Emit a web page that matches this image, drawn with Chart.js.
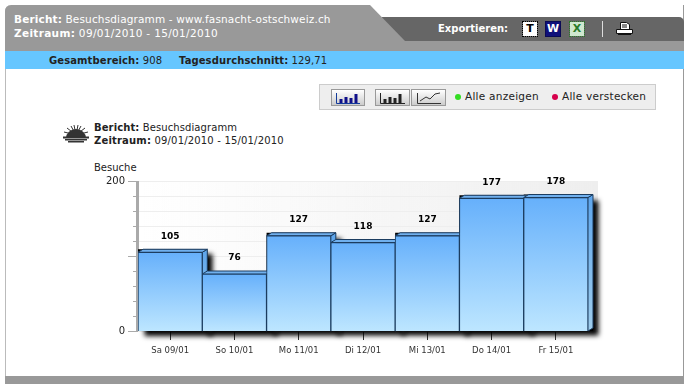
<!DOCTYPE html>
<html lang="de">
<head>
<meta charset="utf-8">
<title>Besuchsdiagramm</title>
<script src="https://cdn.jsdelivr.net/npm/chart.js@4"></script>
<style>
html, body { margin: 0; padding: 0; background: #fff; }
body { width: 690px; height: 390px; position: relative; overflow: hidden; font-family: "DejaVu Sans", Verdana, sans-serif; font-size: 10px; color: #222; }
.box { position: absolute; }
.txt { position: absolute; white-space: nowrap; line-height: 13px; }
#chart { position: absolute; left: 0; top: 0; }
.btn { position: absolute; top: 89px; height: 15px; border: 1px solid #999; background: linear-gradient(#fff, #ccc); }
.exp { position: absolute; top: 22px; width: 14px; height: 14px; line-height: 14px; text-align: center; font-weight: bold; font-size: 11px; }
.dot { position: absolute; top: 94px; width: 6px; height: 6px; border-radius: 50%; }
</style>
</head>
<body>
<!-- page frame -->
<div class="box" style="left:5px;top:5px;width:679px;height:379px;border-right:1px solid #999;border-left:1px solid #bbb;box-sizing:border-box;border-radius:6px 0 0 0"></div>
<div class="box" style="left:382px;top:17px;width:302px;height:24px;background:#666;border-radius:0 5px 0 0"></div>
<div class="box" style="left:5px;top:5px;width:400px;height:36px;background:#999;clip-path:polygon(0 0,365px 0,400px 36px,0 36px);border-radius:6px 0 0 0"></div>
<div class="box" style="left:5px;top:41px;width:679px;height:10px;background:#999"></div>
<div class="box" style="left:5px;top:51px;width:679px;height:18px;background:#66c6ff"></div>
<div class="box" style="left:5px;top:376px;width:679px;height:8px;background:#999"></div>

<div class="txt" style="left:14px;top:13px;color:#fff;font-size:10.5px;letter-spacing:.15px"><b>Bericht:</b> Besuchsdiagramm - www.fasnacht-ostschweiz.ch</div>
<div class="txt" style="left:14px;top:27px;color:#fff;font-size:10.5px;letter-spacing:.33px"><b>Zeitraum:</b> 09/01/2010 - 15/01/2010</div>
<div class="txt" style="left:49px;top:54px;letter-spacing:.1px"><b>Gesamtbereich:</b> 908</div>
<div class="txt" style="left:179px;top:54px;letter-spacing:.1px"><b>Tagesdurchschnitt:</b> 129,71</div>

<div class="txt" style="left:438px;top:22px;color:#fff;font-weight:bold;font-size:10px">Exportieren:</div>
<div class="exp" style="left:523px;background:#fff;color:#000;outline:1px dotted #000">T</div>
<div class="exp" style="left:546px;color:#fff;background:#10107a;outline:1px solid #0a0a55">W</div>
<div class="exp" style="left:570px;background:#cfe8cf;color:#2a7a2a;outline:1px dotted #2a7a2a">X</div>
<div class="box" style="left:602px;top:21px;width:1px;height:16px;background:#ddd"></div>
<svg class="box" style="left:616px;top:21px" width="17" height="15">
  <path d="M4.5 1.5h6l3 2v5h-9z" fill="#fff" stroke="#111"/><path d="M.5 8.5h16v4H.5z" fill="#fff" stroke="#111"/><path d="M6 4h5M6 6h5" stroke="#111"/><path d="M2 13h13v1H2z" fill="#111"/>
</svg>

<!-- toolbar -->
<div class="box" style="left:319px;top:84px;width:335px;height:24px;background:#eee;border:1px solid #ccc"></div>
<div class="btn" style="left:331px;width:32px"><svg width="32" height="15"><path d="M4.5 3v10.5H28" stroke="#123a9a" fill="none"/><path d="M9 13V9M14 13V7M19 13V8M24 13V4" stroke="#10108a" stroke-width="3" fill="none"/></svg></div>
<div class="btn" style="left:375px;width:33px"><svg width="33" height="15"><path d="M4.5 3v10.5H29" stroke="#222" fill="none"/><path d="M9 13V9M14 13V7M19 13V8M24 13V4" stroke="#222" stroke-width="3" fill="none"/></svg></div>
<div class="btn" style="left:411px;width:33px"><svg width="33" height="15"><path d="M5.5 3v10.5H29M8 11l6-4 4 2 5-5 5-1" stroke="#333" fill="none"/></svg></div>
<div class="dot" style="left:455px;background:#33dd22"></div>
<div class="txt" style="left:465px;top:90px;font-size:10.5px;letter-spacing:.25px">Alle anzeigen</div>
<div class="dot" style="left:552px;background:#d6004c"></div>
<div class="txt" style="left:562px;top:90px;font-size:10.5px;letter-spacing:.25px">Alle verstecken</div>

<!-- report heading -->
<svg class="box" style="left:62px;top:125px" width="28" height="18">
  <path d="M14 10L5 3M14 10L9 1M14 10L12 0M14 10L16 0M14 10L19 1M14 10L23 3M14 10L2 7M14 10L26 7" stroke="#333"/>
  <path d="M4 13a10 9 0 0 1 20 0z" fill="#333"/><path d="M1 11.5h26v2H1zM3 14h22v1.5H3zM6 16h16v1.5H6z" fill="#333"/>
</svg>
<div class="txt" style="left:94px;top:121px;letter-spacing:.1px"><b>Bericht:</b> Besuchsdiagramm</div>
<div class="txt" style="left:94px;top:134px;letter-spacing:.18px"><b>Zeitraum:</b> 09/01/2010 - 15/01/2010</div>
<div class="txt" style="left:94px;top:161px;font-size:10px">Besuche</div>

<canvas id="chart" width="690" height="390"></canvas>

<script>
const categories = ['Sa 09/01', 'So 10/01', 'Mo 11/01', 'Di 12/01', 'Mi 13/01', 'Do 14/01', 'Fr 15/01'];
const visits = [105, 76, 127, 118, 127, 177, 178];
const labelledTicks = [0, 200];

// how far the fake 3d faces stick out
const depthX = 5;
const depthY = 3;

function barGradient(ctx) {
    const chart = ctx.chart;
    if (!chart.chartArea || ctx.parsed === undefined) return '#8cc4fc';
    const top = chart.scales.y.getPixelForValue(ctx.parsed.y);
    const g = chart.ctx.createLinearGradient(0, top, 0, chart.chartArea.bottom);
    g.addColorStop(0, '#66b0fb');
    g.addColorStop(1, '#bde6ff');
    return g;
}

// plot backdrop, axis lines, shadow and the top/side faces of the bars
const backdrop = {
    id: 'backdrop',
    beforeDatasetsDraw(chart) {
        const { ctx, chartArea: a, scales: { y } } = chart;
        const bars = chart.getDatasetMeta(0).data;
        ctx.save();

        const bg = ctx.createLinearGradient(a.left, 0, a.right + 10, 0);
        bg.addColorStop(0, 'rgba(240,240,240,0)');
        bg.addColorStop(1, 'rgba(238,238,238,1)');
        ctx.fillStyle = bg;
        ctx.fillRect(a.left, a.top, a.width + 10, a.height);

        ctx.strokeStyle = '#eeeeee';
        y.ticks.forEach(t => {
            const py = Math.round(y.getPixelForValue(t.value)) + 0.5;
            ctx.beginPath();
            ctx.moveTo(a.left, py);
            ctx.lineTo(a.right + 10, py);
            ctx.stroke();
        });

        // left axis with long ticks at 0, 100, 200
        ctx.strokeStyle = '#aaaaaa';
        y.ticks.forEach(t => {
            const py = Math.round(y.getPixelForValue(t.value)) + 0.5;
            const len = t.value % 100 === 0 ? 10 : 5;
            ctx.beginPath();
            ctx.moveTo(a.left - len, py);
            ctx.lineTo(a.left, py);
            ctx.stroke();
        });
        ctx.lineWidth = 3;
        ctx.beginPath();
        ctx.moveTo(a.left - 0.5, a.top);
        ctx.lineTo(a.left - 0.5, a.bottom);
        ctx.stroke();

        // shadow
        ctx.save();
        ctx.shadowColor = 'rgba(0,0,0,1)';
        ctx.shadowBlur = 5;
        ctx.shadowOffsetX = 6;
        ctx.shadowOffsetY = 5;
        ctx.fillStyle = '#000';
        bars.forEach(b => {
            const l = b.x - b.width / 2;
            ctx.fillRect(l, b.y - depthY, b.width + depthX, b.base - b.y + depthY);
        });
        ctx.restore();

        // faces
        ctx.lineWidth = 1;
        ctx.strokeStyle = '#1c3d60';
        bars.forEach(b => {
            const l = b.x - b.width / 2;
            const r = b.x + b.width / 2;
            const side = ctx.createLinearGradient(0, b.y, 0, b.base);
            side.addColorStop(0, '#5fa6ec');
            side.addColorStop(1, '#9fcdec');
            ctx.fillStyle = side;
            ctx.beginPath();
            ctx.moveTo(r, b.y);
            ctx.lineTo(r + depthX, b.y - depthY);
            ctx.lineTo(r + depthX, b.base - depthY);
            ctx.lineTo(r, b.base);
            ctx.closePath();
            ctx.fill();
            ctx.stroke();

            ctx.fillStyle = '#70b0ee';
            ctx.beginPath();
            ctx.moveTo(l, b.y);
            ctx.lineTo(l + depthX, b.y - depthY);
            ctx.lineTo(r + depthX, b.y - depthY);
            ctx.lineTo(r, b.y);
            ctx.closePath();
            ctx.fill();
            ctx.stroke();
        });
        ctx.restore();
    },
    afterDatasetsDraw(chart) {
        const { ctx } = chart;
        ctx.save();
        ctx.font = 'bold 9px "DejaVu Sans"';
        ctx.fillStyle = '#000';
        ctx.textAlign = 'center';
        ctx.textBaseline = 'middle';
        chart.getDatasetMeta(0).data.forEach((b, i) => {
            ctx.fillText(visits[i], b.x, b.y - 16);
        });
        ctx.restore();
    }
};

new Chart(document.getElementById('chart').getContext('2d'), {
    type: 'bar',
    data: {
        labels: categories,
        datasets: [{
            label: 'Besuche',
            data: visits,
            backgroundColor: barGradient,
            borderColor: '#1c3d60',
            borderWidth: 1,
            barPercentage: 1,
            categoryPercentage: 1
        }]
    },
    plugins: [backdrop],
    options: {
        responsive: false,
        animation: false,
        layout: { padding: { left: 90, right: 102, top: 181, bottom: 29 } },
        plugins: { legend: { display: false }, tooltip: { enabled: false } },
        scales: {
            x: {
                grid: { display: true, drawOnChartArea: false, color: '#333', tickLength: 9, offset: false },
                border: { display: false },
                ticks: { color: '#333', font: { size: 8.5, family: '"DejaVu Sans"' }, padding: 6, maxRotation: 0 },
                afterFit(scale) { scale.height = 30; }
            },
            y: {
                min: 0,
                max: 200,
                grid: { display: false },
                border: { display: false },
                ticks: {
                    stepSize: 20,
                    color: '#222',
                    font: { size: 10, family: '"DejaVu Sans"' },
                    padding: 5,
                    autoSkip: false,
                    callback: v => labelledTicks.includes(v) ? v : ''
                },
                afterFit(scale) { scale.width = 48; }
            }
        }
    }
});
</script>
</body>
</html>
